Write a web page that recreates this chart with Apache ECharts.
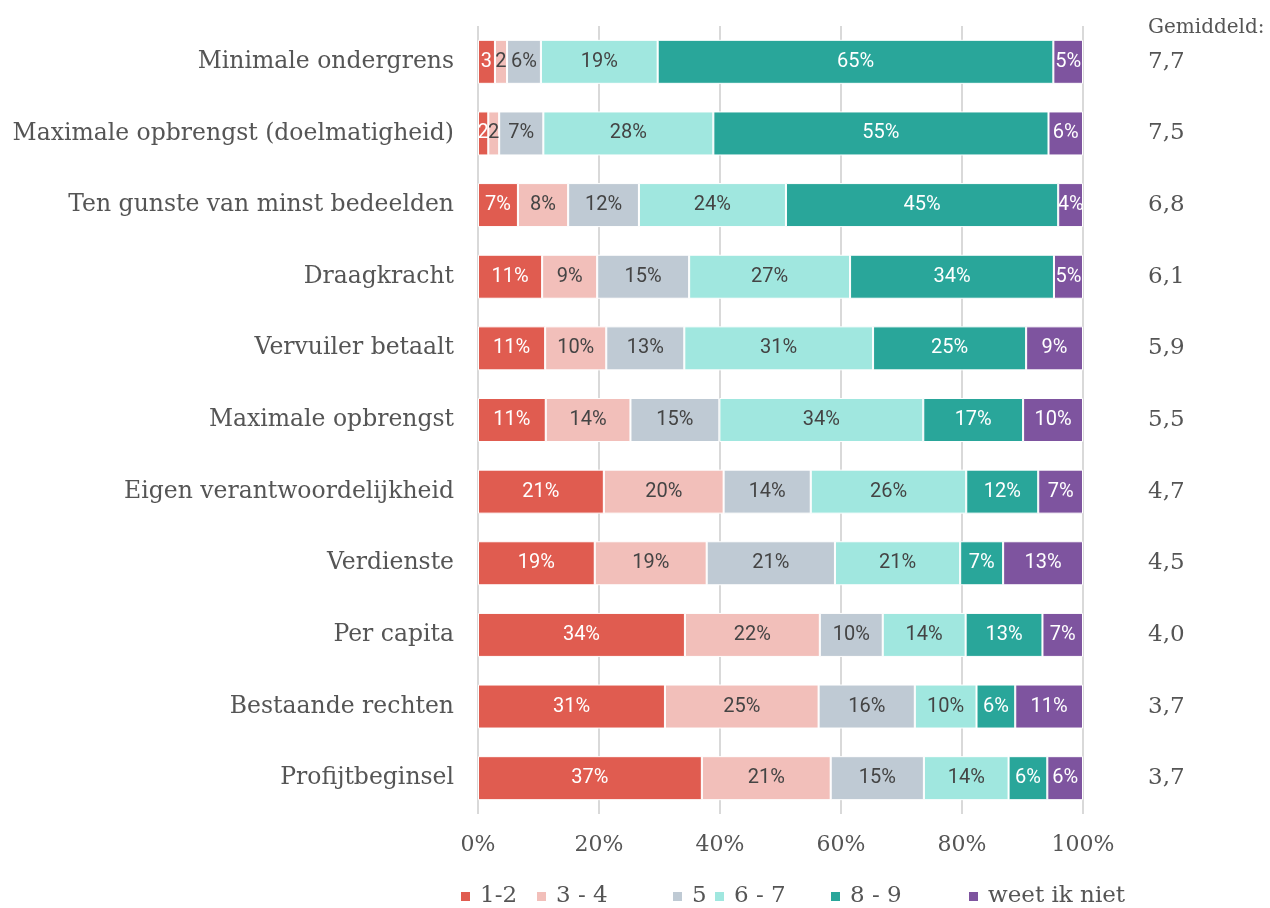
<!DOCTYPE html>
<html><head><meta charset="utf-8">
<script src="https://cdn.jsdelivr.net/npm/echarts@6/dist/echarts.min.js"></script>
<style>html,body{margin:0;padding:0;background:#fff}#c{width:1270px;height:908px}</style>
</head><body><div id="c"></div>
<script>
const categories = ["Minimale ondergrens","Maximale opbrengst (doelmatigheid)","Ten gunste van minst bedeelden","Draagkracht","Vervuiler betaalt","Maximale opbrengst","Eigen verantwoordelijkheid","Verdienste","Per capita","Bestaande rechten","Profijtbeginsel"];
const averages = ["7,7","7,5","6,8","6,1","5,9","5,5","4,7","4,5","4,0","3,7","3,7"];
const seriesNames = ["1-2","3 - 4","5","6 - 7","8 - 9","weet ik niet"];
const s12 = [2.8,1.7,6.6,10.6,11.1,11.2,20.8,19.3,34.2,30.9,37.0];
const s34 = [2.0,1.8,8.3,9.1,10.1,14.0,19.8,18.5,22.3,25.4,21.3];
const s5  = [5.6,7.3,11.7,15.2,12.9,14.7,14.4,21.2,10.4,15.9,15.4];
const s67 = [19.3,28.1,24.3,26.6,31.2,33.7,25.7,20.7,13.7,10.2,14.0];
const s89 = [65.4,55.4,45.0,33.7,25.3,16.5,11.9,7.1,12.7,6.4,6.4];
const sNo = [4.9,5.7,4.1,4.8,9.4,9.9,7.4,13.2,6.7,11.2,5.9];
const xTicks = [0,20,40,60,80,100];
const colors = ["#E05C50","#F2BFBA","#BFCAD4","#A0E7DF","#29A69A","#7E549F"];
const labelColors = ["#fff","#444","#444","#444","#fff","#fff"];
const values = [s12,s34,s5,s67,s89,sNo];
const legendLeft = [454,530,666,708,824,962];
const serif = "DejaVu Serif";
const chart = echarts.init(document.getElementById('c'));
chart.setOption({
  animation:false,
  grid:{left:478,right:187,top:26,height:788},
  legend: seriesNames.map((n,i)=>({left:legendLeft[i],top:880,itemWidth:11,itemHeight:11,icon:'rect',
    textStyle:{fontFamily:serif,fontSize:23,color:'#555',padding:[0,0,0,4]},data:[n]})),
  graphic:[{type:'text',left:1148,top:18,style:{text:'Gemiddeld:',font:'20px "DejaVu Serif"',fill:'#555'}}],
  xAxis:{type:'value',min:xTicks[0],max:xTicks[xTicks.length-1],interval:20,
    axisLabel:{formatter:v=>v+'%',fontFamily:serif,fontSize:22,color:'#555',margin:20},
    splitLine:{show:true,lineStyle:{color:'#d9d9d9',width:2}},axisLine:{show:false},axisTick:{show:false}},
  yAxis:[{type:'category',data:categories,inverse:true,
    axisLabel:{fontFamily:serif,fontSize:23.5,color:'#555',margin:24},
    axisLine:{show:false},axisTick:{show:false}},
   {type:'category',data:averages,inverse:true,position:'right',
    axisLabel:{fontFamily:serif,fontSize:23,color:'#555',margin:65,align:'left'},
    axisLine:{show:false},axisTick:{show:false}}],
  series: seriesNames.map((n,i)=>({
    name:n,type:'bar',stack:'t',barWidth:44,data:values[i],
    itemStyle:{color:colors[i],borderColor:'#fff',borderWidth:1},
    label:{show:true,position:'inside',fontFamily:'Roboto',fontSize:20,color:labelColors[i],
      formatter:p=>Math.round(p.value)+(p.value>=3.5?'%':'')}
  }))
});
</script></body></html>
